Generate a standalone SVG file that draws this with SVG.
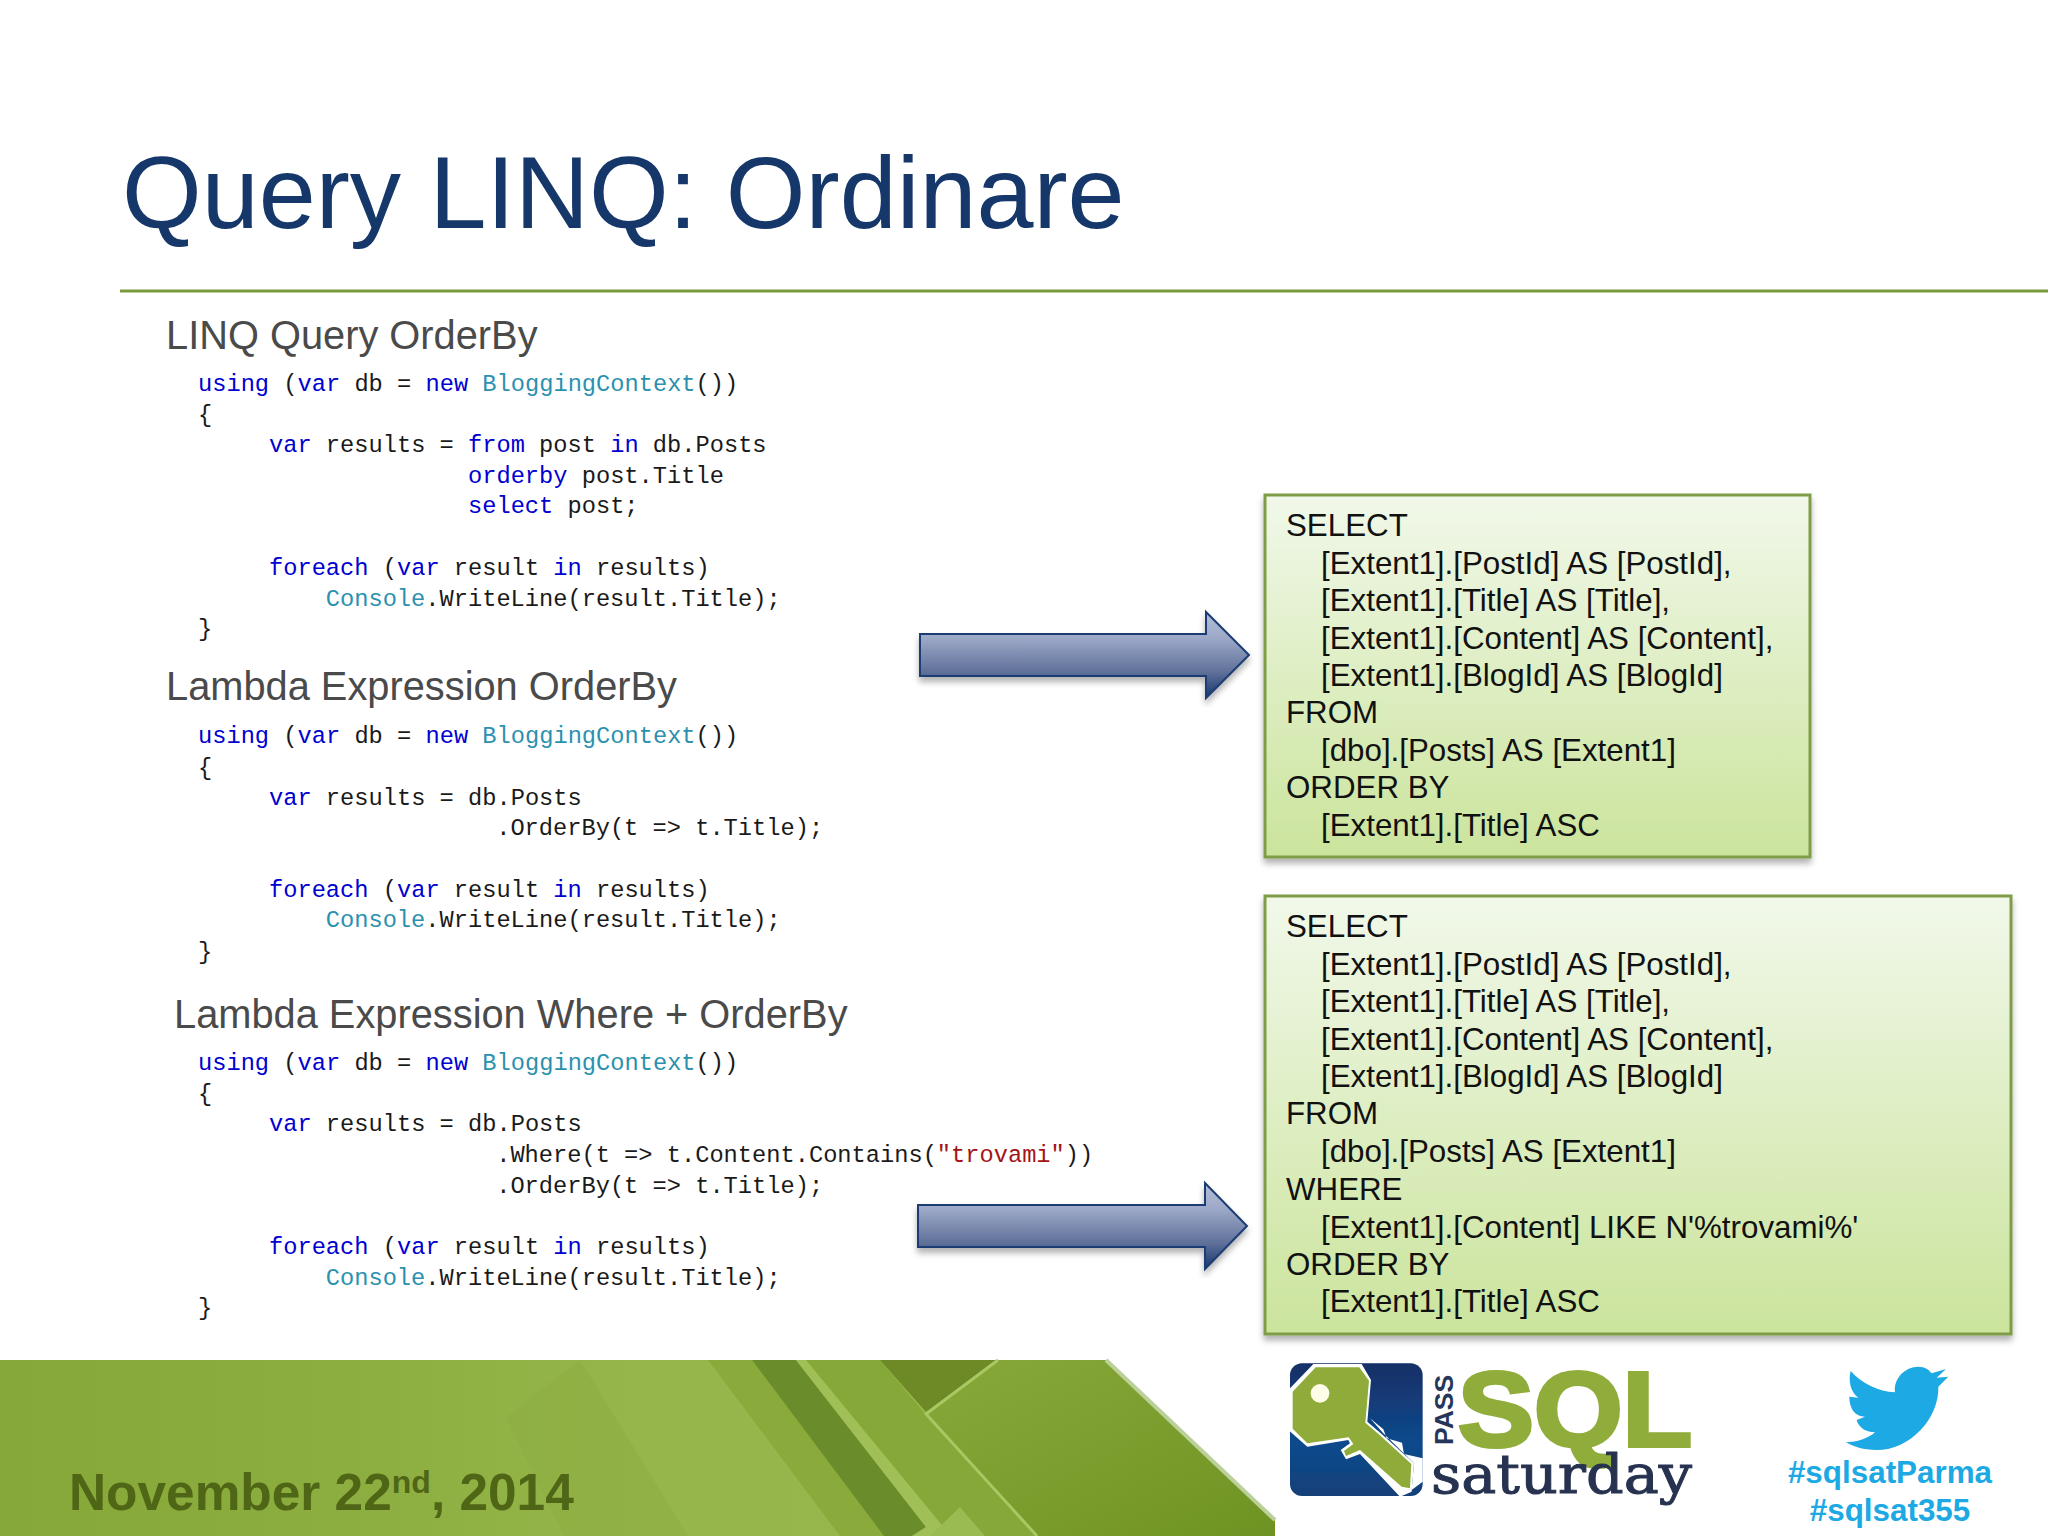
<svg xmlns="http://www.w3.org/2000/svg" width="2048" height="1536" viewBox="0 0 2048 1536">
<style>
text{white-space:pre}
.title{font:102.500px "Liberation Sans",Arial,sans-serif;fill:#15376a}
.h{font:39.800px "Liberation Sans",Arial,sans-serif;fill:#4a4a4a}
.c{font:23.700px "Liberation Mono","DejaVu Sans Mono",monospace;fill:#1a1a1a}
.k{fill:#0000d0}.t{fill:#2b91af}.s{fill:#a31515}
.q{font:31.300px "Liberation Sans",Arial,sans-serif;fill:#111}
.box{fill:url(#boxG);stroke:#7f9d46;stroke-width:3;filter:url(#sh)}
.arrow{fill:url(#arG);stroke:#1c3e73;stroke-width:2;stroke-linejoin:miter;filter:url(#sh)}
.tag{font:bold 31.400px "Liberation Sans",Arial,sans-serif;fill:#1ca9e4;text-anchor:middle}
</style>
<defs>
<linearGradient id="boxG" x1="0" y1="0" x2="0" y2="1"><stop offset="0" stop-color="#f1f8ea"/><stop offset="1" stop-color="#cbe49c"/></linearGradient>
<linearGradient id="arG" x1="0" y1="0" x2="0" y2="1"><stop offset="0" stop-color="#b4bed8"/><stop offset=".3" stop-color="#9da9c8"/><stop offset=".7" stop-color="#5f7099"/><stop offset="1" stop-color="#17376f"/></linearGradient>
<linearGradient id="foot" x1="0" y1="0" x2="1" y2="0"><stop offset="0" stop-color="#86a838"/><stop offset=".3" stop-color="#8dae40"/><stop offset=".5" stop-color="#96b64b"/><stop offset="1" stop-color="#98b84e"/></linearGradient>
<linearGradient id="plate" x1="0" y1="0" x2="1" y2="1"><stop offset="0" stop-color="#88a93a"/><stop offset="1" stop-color="#6f9322"/></linearGradient>
<linearGradient id="logoB" x1="0" y1="0" x2="0" y2="1"><stop offset="0" stop-color="#152f66"/><stop offset=".6" stop-color="#0f4a8c"/><stop offset="1" stop-color="#134079"/></linearGradient>
<filter id="sh" x="-5%" y="-5%" width="110%" height="115%"><feDropShadow dx="0" dy="5" stdDeviation="3" flood-color="#000" flood-opacity=".3"/></filter>
<filter id="soft" x="-5%" y="-5%" width="110%" height="110%"><feGaussianBlur stdDeviation="1.500"/></filter>
</defs>
<rect width="2048" height="1536" fill="#fff"/>

<g id="header">
<text class="title" x="122" y="228">Query LINQ: Ordinare</text>
<rect x="120" y="289.500" width="1928" height="3" fill="#7a9a3e"/>
</g>

<g id="code-linq">
<text class="h" x="166" y="349">LINQ Query OrderBy</text>
<text class="c" x="198" y="391"><tspan class="k">using</tspan> (<tspan class="k">var</tspan> db = <tspan class="k">new</tspan> <tspan class="t">BloggingContext</tspan>())</text>
<text class="c" x="198" y="422">{</text>
<text class="c" x="269" y="452"><tspan class="k">var</tspan> results = <tspan class="k">from</tspan> post <tspan class="k">in</tspan> db.Posts</text>
<text class="c" x="468" y="483"><tspan class="k">orderby</tspan> post.Title</text>
<text class="c" x="468" y="513"><tspan class="k">select</tspan> post;</text>
<text class="c" x="269" y="575"><tspan class="k">foreach</tspan> (<tspan class="k">var</tspan> result <tspan class="k">in</tspan> results)</text>
<text class="c" x="325.800" y="606"><tspan class="t">Console</tspan>.WriteLine(result.Title);</text>
<text class="c" x="198" y="636">}</text>
</g>

<g id="code-lambda">
<text class="h" x="166" y="700">Lambda Expression OrderBy</text>
<text class="c" x="198" y="743"><tspan class="k">using</tspan> (<tspan class="k">var</tspan> db = <tspan class="k">new</tspan> <tspan class="t">BloggingContext</tspan>())</text>
<text class="c" x="198" y="775">{</text>
<text class="c" x="269" y="805"><tspan class="k">var</tspan> results = db.Posts</text>
<text class="c" x="496.200" y="835">.OrderBy(t =&gt; t.Title);</text>
<text class="c" x="269" y="897"><tspan class="k">foreach</tspan> (<tspan class="k">var</tspan> result <tspan class="k">in</tspan> results)</text>
<text class="c" x="325.800" y="927"><tspan class="t">Console</tspan>.WriteLine(result.Title);</text>
<text class="c" x="198" y="959">}</text>
</g>

<g id="code-where">
<text class="h" x="174" y="1028">Lambda Expression Where + OrderBy</text>
<text class="c" x="198" y="1070"><tspan class="k">using</tspan> (<tspan class="k">var</tspan> db = <tspan class="k">new</tspan> <tspan class="t">BloggingContext</tspan>())</text>
<text class="c" x="198" y="1101">{</text>
<text class="c" x="269" y="1131"><tspan class="k">var</tspan> results = db.Posts</text>
<text class="c" x="496.200" y="1162">.Where(t =&gt; t.Content.Contains(<tspan class="s">"trovami"</tspan>))</text>
<text class="c" x="496.200" y="1193">.OrderBy(t =&gt; t.Title);</text>
<text class="c" x="269" y="1254"><tspan class="k">foreach</tspan> (<tspan class="k">var</tspan> result <tspan class="k">in</tspan> results)</text>
<text class="c" x="325.800" y="1285"><tspan class="t">Console</tspan>.WriteLine(result.Title);</text>
<text class="c" x="198" y="1315">}</text>
</g>

<g id="connectors">
<path class="arrow" d="M920 634H1206V612L1249 655L1206 698V676H920Z"/>
<path class="arrow" d="M918 1205H1205V1183L1247 1226L1205 1269V1247H918Z"/>
</g>

<g id="sql-orderby">
<rect class="box" x="1265" y="495" width="545" height="362"/>
<text class="q" x="1286" y="536">SELECT</text>
<text class="q" x="1321" y="574">[Extent1].[PostId] AS [PostId],</text>
<text class="q" x="1321" y="611">[Extent1].[Title] AS [Title],</text>
<text class="q" x="1321" y="649">[Extent1].[Content] AS [Content],</text>
<text class="q" x="1321" y="686">[Extent1].[BlogId] AS [BlogId]</text>
<text class="q" x="1286" y="723">FROM</text>
<text class="q" x="1321" y="761">[dbo].[Posts] AS [Extent1]</text>
<text class="q" x="1286" y="798">ORDER BY</text>
<text class="q" x="1321" y="836">[Extent1].[Title] ASC</text>
</g>

<g id="sql-where">
<rect class="box" x="1265" y="896" width="746" height="438"/>
<text class="q" x="1286" y="937">SELECT</text>
<text class="q" x="1321" y="975">[Extent1].[PostId] AS [PostId],</text>
<text class="q" x="1321" y="1012">[Extent1].[Title] AS [Title],</text>
<text class="q" x="1321" y="1050">[Extent1].[Content] AS [Content],</text>
<text class="q" x="1321" y="1087">[Extent1].[BlogId] AS [BlogId]</text>
<text class="q" x="1286" y="1124">FROM</text>
<text class="q" x="1321" y="1162">[dbo].[Posts] AS [Extent1]</text>
<text class="q" x="1286" y="1200">WHERE</text>
<text class="q" x="1321" y="1238">[Extent1].[Content] LIKE N'%trovami%'</text>
<text class="q" x="1286" y="1275">ORDER BY</text>
<text class="q" x="1321" y="1312">[Extent1].[Title] ASC</text>
</g>

<g id="footer">
<path d="M0 1360H1106L1275 1520V1536H0Z" fill="url(#foot)"/>
<path d="M580 1360L506 1417L564 1536H688Z" fill="#8dae42" opacity=".6"/>
<path d="M708 1360H752L884 1536H840Z" fill="#8aab3c"/>
<path d="M752 1360H796L926 1527L912 1536H884Z" fill="#6a8c2a"/>
<path d="M796 1360H811L951 1536H926L912 1536L926 1527Z" fill="#a0bf56"/>
<path d="M806 1360H880L926 1415L1037 1536H951Z" fill="#86a838"/>
<path d="M880 1360H998L926 1412Z" fill="#6d8a26"/>
<path d="M998 1360H1106L1275 1520V1536H1037L926 1414Z" fill="url(#plate)"/>
<path d="M998 1360L926 1414L1037 1536" fill="none" stroke="#a9c763" stroke-width="3"/>
<path d="M1106 1360L1275 1520" fill="none" stroke="#bcd09a" stroke-width="4"/>
<path d="M960 1507L930 1536H985Z" fill="#9abb52"/>
<text x="69" y="1510" style="font:bold 51.400px 'Liberation Sans',Arial,sans-serif;fill:#4f6616">November 22<tspan dy="-17" style="font-size:32px">nd</tspan><tspan dy="17">, 2014</tspan></text>
</g>

<g id="logo-sqlsaturday">
<g transform="translate(1270 1350) scale(.33333)" filter="url(#soft)">
<rect x="60" y="40" width="398" height="398" rx="36" fill="url(#logoB)"/>
<path d="M300 205L340 238L350 265L396 278L402 312L458 325V395L425 420L432 340L340 250Z" fill="#fff"/>
<path d="M55 120L130 42L275 42L303 90L292 215L335 252L432 340L425 425L390 440L270 312L228 328L212 300L240 280L235 270L112 290L55 240Z" fill="#fff"/>
<path d="M68 125L137 52L268 52L297 92L286 218L328 254L424 342L420 415L395 410L270 300L228 318L222 303L250 282L236 262L112 280L68 236Z" fill="#8fac3a"/>
<circle cx="150" cy="130" r="28" fill="#fdfde8"/>
</g>
<text transform="translate(1453 1445) rotate(-90)" style="font:bold 26.500px 'Liberation Sans',Arial,sans-serif;fill:#26365a">PASS</text>
<text x="1458" y="1446" textLength="234" lengthAdjust="spacingAndGlyphs" style="font:bold 106px 'Liberation Sans',Arial,sans-serif;fill:#90ad3c;stroke:#90ad3c;stroke-width:4">SQL</text>
<text x="1431" y="1493" textLength="261" lengthAdjust="spacingAndGlyphs" style="font:54px 'DejaVu Serif',serif;fill:#26324f;stroke:#26324f;stroke-width:1">saturday</text>
</g>

<g id="twitter">
<path transform="translate(1820 1355) scale(.33333)" fill="#1ca9e4" d="M78 262C110 262 145 250 165 232C135 232 115 215 110 195L135 185C105 185 88 160 88 125L115 128C90 110 85 75 92 48C125 85 175 110 225 112C220 70 255 35 295 35C315 35 328 45 335 55L378 42L350 68L385 65L355 95C358 190 270 285 170 285C130 285 100 275 78 262Z"/>
<text class="tag" x="1890" y="1483">#sqlsatParma</text>
<text class="tag" x="1890" y="1521">#sqlsat355</text>
</g>
</svg>
